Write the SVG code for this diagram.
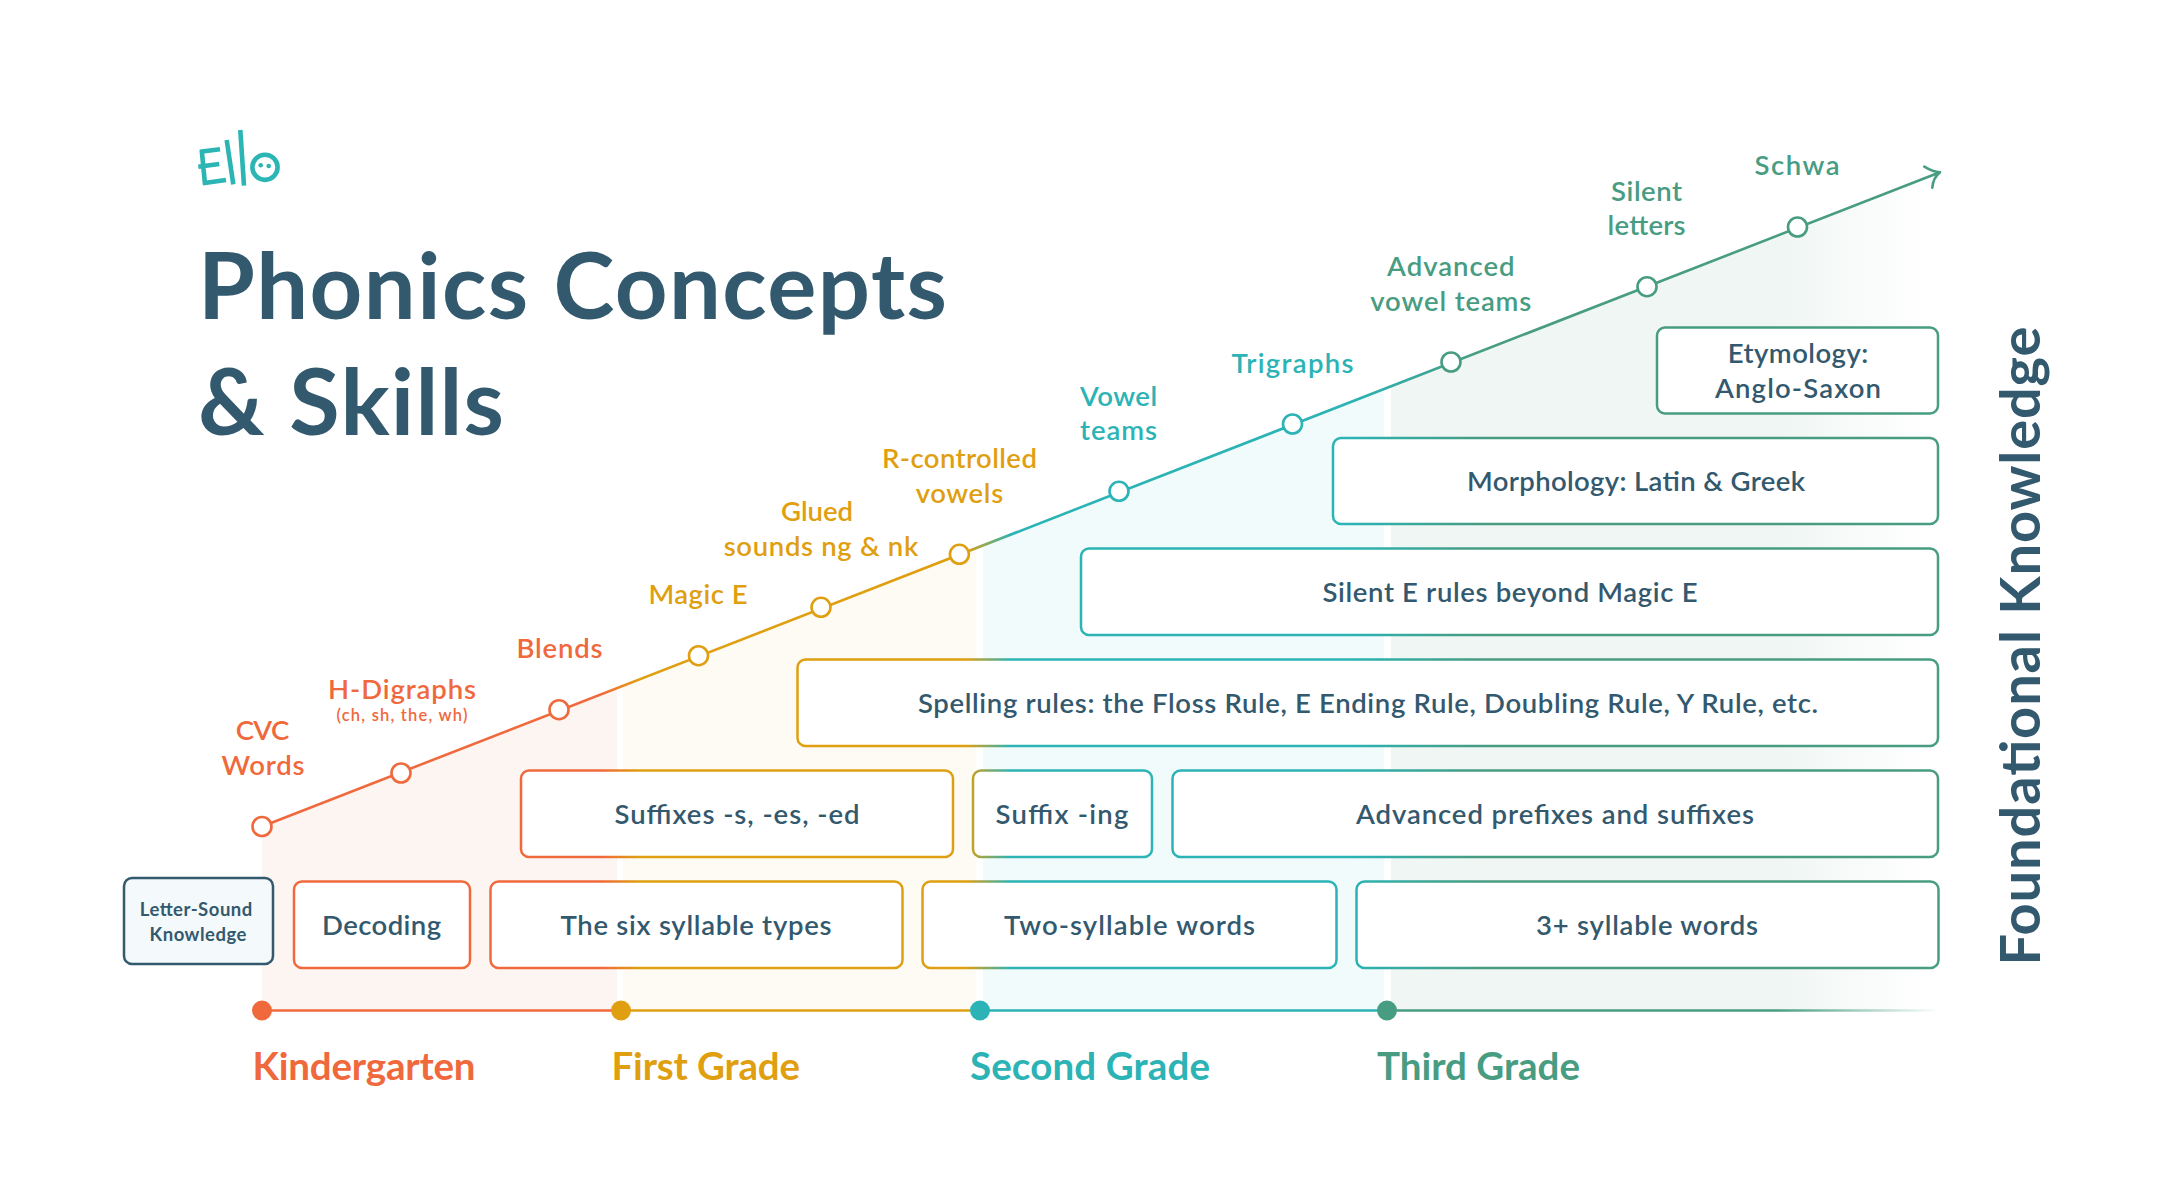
<svg xmlns="http://www.w3.org/2000/svg" width="2160" height="1200" viewBox="0 0 2160 1200">
<style>
text{font-family:"Lato","Liberation Sans",sans-serif;text-anchor:middle;font-weight:600}
.title{font-size:92px;fill:#33596e;text-anchor:start;font-weight:700}
.box{font-size:27.5px;fill:#33596e}
.lbl{font-size:27.5px}
.grade{font-size:38.500px;text-anchor:start;font-weight:700}
.r{fill:#f0693c}.o{fill:#df9f10}.t{fill:#2bb3b5}.g{fill:#479c82}
.node{fill:#fff;stroke:url(#flow);stroke-width:2.5}
.pt{fill:#fff;stroke-width:2.6}
.logo{fill:none;stroke:#2bb5b5;stroke-width:4.6}
</style>
<defs>
<linearGradient id="flow" gradientUnits="userSpaceOnUse" x1="0" y1="0" x2="2160" y2="0">
<stop offset=".278" stop-color="#f0693c"/><stop offset=".296" stop-color="#df9f10"/><stop offset=".447" stop-color="#df9f10"/><stop offset=".468" stop-color="#2bb3b5"/><stop offset=".625" stop-color="#2bb3b5"/><stop offset=".685" stop-color="#479c82"/>
</linearGradient>
<linearGradient id="fade" gradientUnits="userSpaceOnUse" x1="1391" y1="0" x2="1930" y2="0">
<stop offset=".72" stop-color="#f0f6f3"/><stop offset="1" stop-color="#f0f6f3" stop-opacity="0"/>
</linearGradient>
<linearGradient id="axisfade" gradientUnits="userSpaceOnUse" x1="1387" y1="0" x2="1940" y2="0">
<stop offset=".7" stop-color="#479c82"/><stop offset="1" stop-color="#479c82" stop-opacity="0"/>
</linearGradient>
</defs>
<rect width="2160" height="1200" fill="#fff"/>
<g id="zones">
<polygon points="262,826.5 617,688 617,1010 262,1010" fill="#fdf5f2"/>
<polygon points="623,685.500 976,548 976,1010 623,1010" fill="#fdfbf4"/>
<polygon points="983,545 1384,389 1384,1010 983,1010" fill="#f2fbfb"/>
<polygon points="1391,386 1930,176 1930,1010 1391,1010" fill="url(#fade)"/>
</g>
<g id="logo" class="logo">
<path d="M200 151.7L220 149.3M198.3 166.7L219.3 164M202.7 183.3L226 180M201.7 150L205 184.3M226.7 140L233.3 184.3M240.3 130L244 185.7"/>
<circle cx="265" cy="167.3" r="12.6"/>
<circle cx="260.7" cy="165.3" r="2.3" fill="#2bb5b5" stroke="none"/>
<circle cx="268.7" cy="166" r="2.3" fill="#2bb5b5" stroke="none"/>
</g>
<g id="title">
<text class="title" x="198" y="319" textLength="749">Phonics Concepts</text>
<text class="title" x="198" y="435" textLength="306">&amp; Skills</text>
</g>
<g id="connectors" fill="none">
<path d="M262 826.5L1940 172.3" stroke="url(#flow)" stroke-width="2.6"/>
<path d="M1924.300 166.700Q1933 172 1940 172.300Q1933 178 1932.300 187.700" stroke="#479c82" stroke-width="2.6" stroke-linecap="round" stroke-linejoin="round"/>
<path d="M262 1010.500H620.500" stroke="#f0693c" stroke-width="2.6"/>
<path d="M620.500 1010.500H980" stroke="#df9f10" stroke-width="2.6"/>
<path d="M980 1010.500H1387" stroke="#2bb3b5" stroke-width="2.6"/>
<path d="M1387 1010.500H1940" stroke="url(#axisfade)" stroke-width="2.6"/>
</g>
<g id="boxes">
<g id="n-letter"><rect x="124" y="878" width="149" height="86" rx="8" fill="#f4f9fb" stroke="#33596e" stroke-width="2.5"/><text class="box" style="font-size:18.500px;font-weight:700" x="196" y="915.700" textLength="112.500">Letter-Sound</text><text class="box" style="font-size:18.500px;font-weight:700" x="198" y="941" textLength="97">Knowledge</text></g>
<g id="n-decoding"><rect class="node" x="294" y="881.500" width="176" height="86.500" rx="8"/><text class="box" x="381.600" y="934.500" textLength="119">Decoding</text></g>
<g id="n-six"><rect class="node" x="490.500" y="881.500" width="412" height="86.500" rx="8"/><text class="box" x="696" y="934.500" textLength="271">The six syllable types</text></g>
<g id="n-two"><rect class="node" x="922.500" y="881.500" width="414" height="86.500" rx="8"/><text class="box" x="1129.600" y="934.500" textLength="251">Two-syllable words</text></g>
<g id="n-three"><rect class="node" x="1356.500" y="881.500" width="582" height="86.500" rx="8"/><text class="box" x="1647" y="934.500" textLength="222">3+ syllable words</text></g>
<g id="n-suffixes"><rect class="node" x="521" y="770.500" width="432" height="86.500" rx="8"/><text class="box" x="737" y="823.500" textLength="245">Suffixes -s, -es, -ed</text></g>
<g id="n-ing"><rect class="node" x="973" y="770.500" width="179" height="86.500" rx="8"/><text class="box" x="1062" y="823.500" textLength="133">Suffix -ing</text></g>
<g id="n-adv"><rect class="node" x="1172.500" y="770.500" width="765.500" height="86.500" rx="8"/><text class="box" x="1555" y="823.500" textLength="398">Advanced prefixes and suffixes</text></g>
<g id="n-spelling"><rect class="node" x="797.500" y="659.500" width="1140.500" height="86.500" rx="8"/><text class="box" x="1368" y="712.500" textLength="900">Spelling rules: the Floss Rule, E Ending Rule, Doubling Rule, Y Rule, etc.</text></g>
<g id="n-silent"><rect class="node" x="1081" y="548.500" width="857" height="86.500" rx="8"/><text class="box" x="1510" y="602" textLength="375">Silent E rules beyond Magic E</text></g>
<g id="n-morph"><rect class="node" x="1333" y="438" width="605" height="86" rx="8"/><text class="box" x="1636" y="491" textLength="338">Morphology: Latin &amp; Greek</text></g>
<g id="n-etym"><rect class="node" x="1657" y="327.500" width="281" height="86" rx="8"/><text class="box" x="1798" y="363" textLength="140.600">Etymology:</text><text class="box" x="1798" y="397.500" textLength="166">Anglo-Saxon</text></g>
</g>
<g id="points">
<g id="p-cvc"><circle class="pt" cx="262" cy="826.500" r="9.500" stroke="#f0693c"/><text class="lbl r" x="262.500" y="740.300" textLength="53.600">CVC</text><text class="lbl r" x="263" y="775.300" textLength="83">Words</text></g>
<g id="p-h"><circle class="pt" cx="401" cy="773" r="9.500" stroke="#f0693c"/><text class="lbl r" x="402" y="699.300" textLength="148">H-Digraphs</text><text class="r" style="font-size:16.500px" x="402" y="721" textLength="131">(ch, sh, the, wh)</text></g>
<g id="p-blends"><circle class="pt" cx="559" cy="709.700" r="9.500" stroke="#f0693c"/><text class="lbl r" x="559.500" y="657.500" textLength="86">Blends</text></g>
<g id="p-magic"><circle class="pt" cx="698.500" cy="655.700" r="9.500" stroke="#df9f10"/><text class="lbl o" x="698" y="603.500" textLength="99">Magic E</text></g>
<g id="p-glued"><circle class="pt" cx="821" cy="607.300" r="9.500" stroke="#df9f10"/><text class="lbl o" x="817" y="521.300" textLength="72">Glued</text><text class="lbl o" x="821" y="556" textLength="194.600">sounds ng &amp; nk</text></g>
<g id="p-r"><circle class="pt" cx="959.400" cy="554.300" r="9.500" stroke="#df9f10"/><text class="lbl o" x="959.400" y="468.300" textLength="155">R-controlled</text><text class="lbl o" x="959.400" y="502.700" textLength="87.500">vowels</text></g>
<g id="p-vowel"><circle class="pt" cx="1119" cy="491.300" r="9.500" stroke="#2bb3b5"/><text class="lbl t" x="1118.600" y="405.500" textLength="77">Vowel</text><text class="lbl t" x="1118.600" y="440" textLength="77">teams</text></g>
<g id="p-tri"><circle class="pt" cx="1292.500" cy="424" r="9.500" stroke="#2bb3b5"/><text class="lbl t" x="1292.500" y="372.500" textLength="122">Trigraphs</text></g>
<g id="p-adv"><circle class="pt" cx="1451" cy="362" r="9.500" stroke="#479c82"/><text class="lbl g" x="1450.800" y="276" textLength="127.500">Advanced</text><text class="lbl g" x="1450.800" y="310.500" textLength="161">vowel teams</text></g>
<g id="p-silent"><circle class="pt" cx="1647" cy="286.700" r="9.500" stroke="#479c82"/><text class="lbl g" x="1646.600" y="200.500" textLength="71">Silent</text><text class="lbl g" x="1646.600" y="235" textLength="78">letters</text></g>
<g id="p-schwa"><circle class="pt" cx="1797.500" cy="227" r="9.500" stroke="#479c82"/><text class="lbl g" x="1797" y="174.500" textLength="85">Schwa</text></g>
</g>
<g id="grades">
<g id="g-k"><circle cx="262" cy="1010.500" r="10" fill="#f0693c"/><text class="grade r" x="252.500" y="1079.500" textLength="223">Kindergarten</text></g>
<g id="g-1"><circle cx="621" cy="1010.500" r="10" fill="#df9f10"/><text class="grade o" x="611.500" y="1079.500" textLength="188.500">First Grade</text></g>
<g id="g-2"><circle cx="980" cy="1010.500" r="10" fill="#2bb3b5"/><text class="grade t" x="970" y="1079.500" textLength="240">Second Grade</text></g>
<g id="g-3"><circle cx="1387" cy="1010.500" r="10" fill="#479c82"/><text class="grade g" x="1377" y="1079.500" textLength="203">Third Grade</text></g>
</g>
<text id="foundational" transform="translate(2040 965.500) rotate(-90)" x="0" y="0" style="font-size:56px;fill:#33596e;text-anchor:start;font-weight:700" textLength="639">Foundational Knowledge</text>
</svg>
